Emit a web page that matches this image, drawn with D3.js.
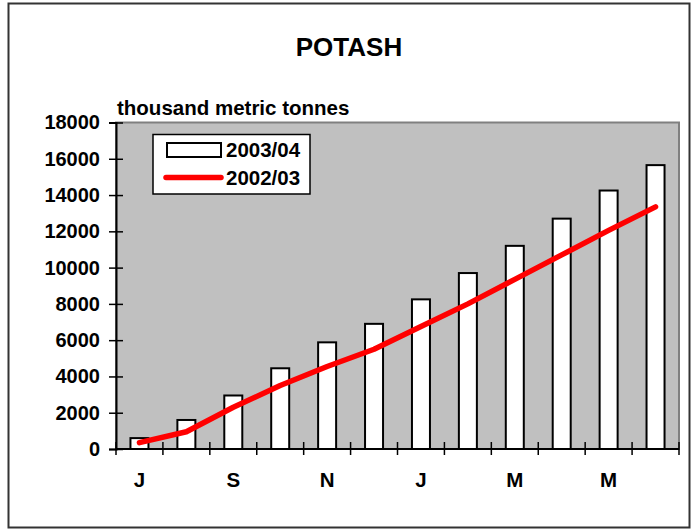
<!DOCTYPE html>
<html>
<head>
<meta charset="utf-8">
<script src="https://cdn.jsdelivr.net/npm/d3@7"></script>
<style>
  html, body { margin: 0; padding: 0; background: #fff; }
  svg { display: block; font-family: "Liberation Sans", Arial, sans-serif; font-weight: bold; }
</style>
</head>
<body>
<svg id="chart" width="694" height="529"></svg>
<script>
const months = ["J","A","S","O","N","D","J","F","M","A","M","J"];
const monthLabels = ["J","","S","","N","","J","","M","","M",""];
const series2003 = [600, 1600, 2950, 4450, 5880, 6900, 8250, 9700, 11200, 12700, 14250, 15650];
const series2002 = [350, 950, 2300, 3500, 4550, 5500, 6750, 8000, 9350, 10700, 12050, 13350];
const yTicks = [0, 2000, 4000, 6000, 8000, 10000, 12000, 14000, 16000, 18000];
const seriesNames = ["2003/04", "2002/03"];
const title = "POTASH";
const yTitle = "thousand metric tonnes";

const svg = d3.select("#chart");
const plot = { left: 116, right: 679, top: 122.5, bottom: 449 };

// outer border
svg.append("rect").attr("x", 8.5).attr("y", 3.5).attr("width", 681).attr("height", 524)
  .attr("fill", "#fff").attr("stroke", "#333").attr("stroke-width", 2);

const idx = d3.range(months.length);
const x = d3.scaleBand().domain(idx).range([plot.left, plot.right]).paddingInner(0).paddingOuter(0);
const y = d3.scaleLinear().domain([0, 18000]).range([plot.bottom, plot.top]);

// plot background
svg.append("rect").attr("x", plot.left).attr("y", plot.top)
  .attr("width", plot.right - plot.left).attr("height", plot.bottom - plot.top)
  .attr("fill", "#c0c0c0").attr("stroke", "#808080").attr("stroke-width", 2);

// titles
svg.append("text").attr("x", 349).attr("y", 55.5).attr("text-anchor", "middle")
  .attr("font-size", 26).text(title);
svg.append("text").attr("x", 117).attr("y", 114.5).attr("font-size", 20.5).text(yTitle);

// bars
const bw = 18;
svg.append("g").selectAll("rect").data(series2003).join("rect")
  .attr("x", (d, i) => x(i) + x.bandwidth() / 2 - bw / 2)
  .attr("y", d => y(d))
  .attr("width", bw)
  .attr("height", d => y(0) - y(d))
  .attr("fill", "#fff").attr("stroke", "#000").attr("stroke-width", 2);

// line
const line = d3.line().x((d, i) => x(i) + x.bandwidth() / 2).y(d => y(d));
svg.append("path").datum(series2002).attr("d", line)
  .attr("fill", "none").attr("stroke", "#ff0000").attr("stroke-width", 5.5)
  .attr("stroke-linecap", "round").attr("stroke-linejoin", "round");

// y axis
const yAxis = d3.axisLeft(y).tickValues(yTicks).tickSize(7).tickPadding(10).tickFormat(d3.format("d"));
const gy = svg.append("g").attr("transform", `translate(${plot.left},0)`).call(yAxis);
gy.select(".domain").attr("stroke", "#000").attr("stroke-width", 2);
gy.selectAll(".tick line").attr("stroke", "#000").attr("stroke-width", 1.5).attr("x2", 7).attr("x1", -7);
gy.selectAll(".tick text").attr("font-size", 20).attr("font-family", "Liberation Sans, Arial, sans-serif")
  .attr("font-weight", "bold").attr("fill", "#000").attr("x", -16);

// x axis: ticks at band boundaries
const xb = d3.scaleLinear().domain([0, months.length]).range([plot.left, plot.right]);
const gx = svg.append("g").attr("transform", `translate(0,${plot.bottom})`);
gx.append("line").attr("x1", plot.left).attr("x2", plot.right).attr("stroke", "#000").attr("stroke-width", 2);
gx.selectAll("line.t").data(d3.range(months.length + 1)).join("line").attr("class", "t")
  .attr("x1", d => xb(d)).attr("x2", d => xb(d)).attr("y1", -7).attr("y2", 6)
  .attr("stroke", "#000").attr("stroke-width", 1.5);
gx.selectAll("text").data(monthLabels).join("text")
  .attr("x", (d, i) => x(i) + x.bandwidth() / 2).attr("y", 37.5)
  .attr("text-anchor", "middle").attr("font-size", 20.5).text(d => d);

// legend
const lg = svg.append("g");
lg.append("rect").attr("x", 153).attr("y", 134.5).attr("width", 157).attr("height", 59.5)
  .attr("fill", "#fff").attr("stroke", "#000").attr("stroke-width", 1.5);
lg.append("rect").attr("x", 167).attr("y", 143).attr("width", 54).attr("height", 14)
  .attr("fill", "#fff").attr("stroke", "#000").attr("stroke-width", 2);
lg.append("line").attr("x1", 166).attr("x2", 221).attr("y1", 177.5).attr("y2", 177.5)
  .attr("stroke", "#ff0000").attr("stroke-width", 5.5).attr("stroke-linecap", "round");
lg.append("text").attr("x", 226).attr("y", 157).attr("font-size", 20.5).text(seriesNames[0]);
lg.append("text").attr("x", 226).attr("y", 185).attr("font-size", 20.5).text(seriesNames[1]);
</script>
</body>
</html>
